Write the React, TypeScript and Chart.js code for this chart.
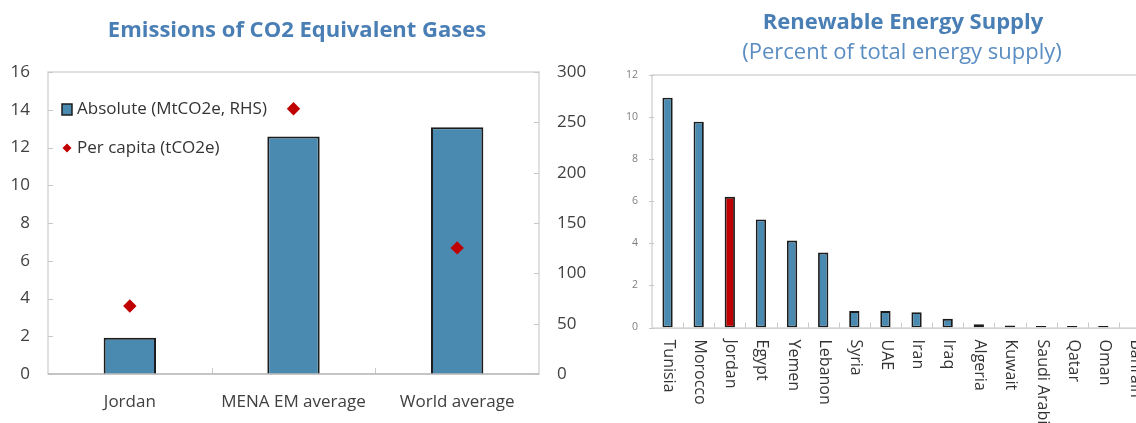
import React, { useEffect, useRef } from "react";
import { Chart, registerables } from "chart.js";

Chart.register(...registerables);

// ---------- Data: left chart ----------
const emissionCategories = ["Jordan", "MENA EM average", "World average"];
const absoluteEmissions = [36, 236, 245]; // MtCO2e (RHS)
const perCapitaEmissions = [3.6, 14.05, 6.68]; // tCO2e (LHS)
const emissionsTitle = "Emissions of CO2 Equivalent Gases";
const absoluteLabel = "Absolute (MtCO2e, RHS)";
const perCapitaLabel = "Per capita (tCO2e)";

// ---------- Data: right chart ----------
const renewableCountries = [
  "Tunisia", "Morocco", "Jordan", "Egypt", "Yemen", "Lebanon", "Syria", "UAE",
  "Iran", "Iraq", "Algeria", "Kuwait", "Saudi Arabia", "Qatar", "Oman", "Bahrain",
];
const renewableShares = [10.92, 9.78, 6.21, 5.13, 4.13, 3.56, 0.78, 0.78, 0.73, 0.41, 0.16, 0.1, 0.07, 0.07, 0.07, 0];
const highlightedCountry = "Jordan";
const renewableTitle = "Renewable Energy Supply";
const renewableSubtitle = "(Percent of total energy supply)";

const FONT = "'Open Sans', 'Noto Sans', sans-serif";
const BLUE = "#4b8ab0";
const RED = "#c00000";
const EDGE = "#1c1c1c";
const FRAME = "#d6d6d6";
const TITLE_BLUE = "#4a7fb5";

const leftDecor = {
  id: "leftDecor",
  beforeDatasetsDraw(chart: any) {
    const { ctx, chartArea: a, scales } = chart;
    ctx.save();
    ctx.strokeStyle = FRAME;
    ctx.lineWidth = 1.5;
    ctx.strokeRect(a.left, a.top, a.right - a.left, a.bottom - a.top);
    ctx.strokeStyle = "#c8c8c8";
    ctx.lineWidth = 1;
    const y = scales.y;
    y.ticks.forEach((_t: any, i: number) => {
      const py = Math.round(y.getPixelForTick(i)) + 0.5;
      ctx.beginPath();
      ctx.moveTo(a.left, py);
      ctx.lineTo(a.left + 5, py);
      ctx.stroke();
    });
    const y1 = scales.y1;
    y1.ticks.forEach((_t: any, i: number) => {
      const py = Math.round(y1.getPixelForTick(i)) + 0.5;
      ctx.beginPath();
      ctx.moveTo(a.right - 5, py);
      ctx.lineTo(a.right, py);
      ctx.stroke();
    });
    const x = scales.x;
    for (let i = 1; i < emissionCategories.length; i++) {
      const px = Math.round((x.getPixelForTick(i - 1) + x.getPixelForTick(i)) / 2) + 0.5;
      ctx.beginPath();
      ctx.moveTo(px, a.bottom);
      ctx.lineTo(px, a.bottom - 6);
      ctx.stroke();
    }
    ctx.restore();
  },
  afterDatasetsDraw(chart: any) {
    const { ctx, chartArea: a } = chart;
    ctx.save();
    ctx.strokeStyle = "#bdbdbd";
    ctx.lineWidth = 1.5;
    ctx.beginPath();
    ctx.moveTo(a.left, a.bottom);
    ctx.lineTo(a.right, a.bottom);
    ctx.stroke();
    ctx.restore();
  },
  afterDraw(chart: any) {
    const { ctx } = chart;
    ctx.save();
    ctx.fillStyle = TITLE_BLUE;
    ctx.font = `700 22px ${FONT}`;
    ctx.textAlign = "center";
    ctx.textBaseline = "alphabetic";
    ctx.fillText(emissionsTitle, 297, 37);
    // legend
    ctx.fillStyle = BLUE;
    ctx.strokeStyle = EDGE;
    ctx.lineWidth = 1.5;
    ctx.fillRect(62, 104, 10, 11);
    ctx.strokeRect(62, 104, 10, 11);
    ctx.fillStyle = RED;
    ctx.beginPath();
    ctx.moveTo(67, 143.5);
    ctx.lineTo(71.5, 148);
    ctx.lineTo(67, 152.5);
    ctx.lineTo(62.5, 148);
    ctx.closePath();
    ctx.fill();
    ctx.fillStyle = "#333333";
    ctx.font = `17px ${FONT}`;
    ctx.textAlign = "left";
    ctx.textBaseline = "middle";
    ctx.fillText(absoluteLabel, 77, 109);
    ctx.fillText(perCapitaLabel, 77, 148);
    ctx.restore();
  },
};

const rightDecor = {
  id: "rightDecor",
  beforeDatasetsDraw(chart: any) {
    const { ctx, chartArea: a, scales } = chart;
    ctx.save();
    ctx.strokeStyle = FRAME;
    ctx.lineWidth = 1.5;
    ctx.beginPath();
    ctx.moveTo(a.left, a.bottom);
    ctx.lineTo(a.left, a.top);
    ctx.lineTo(a.right, a.top);
    ctx.lineTo(a.right, a.bottom);
    ctx.stroke();
    ctx.strokeStyle = "#c8c8c8";
    ctx.lineWidth = 1;
    const y = scales.y;
    y.ticks.forEach((_t: any, i: number) => {
      const py = Math.round(y.getPixelForTick(i)) + 0.5;
      ctx.beginPath();
      ctx.moveTo(a.left - 3, py);
      ctx.lineTo(a.left + 2, py);
      ctx.stroke();
    });
    const x = scales.x;
    for (let i = 1; i < renewableCountries.length; i++) {
      const px = Math.round((x.getPixelForTick(i - 1) + x.getPixelForTick(i)) / 2) + 0.5;
      ctx.beginPath();
      ctx.moveTo(px, a.bottom);
      ctx.lineTo(px, a.bottom - 5);
      ctx.stroke();
    }
    ctx.restore();
  },
  afterDatasetsDraw(chart: any) {
    const { ctx, chartArea: a } = chart;
    ctx.save();
    ctx.strokeStyle = "#c4c4c4";
    ctx.lineWidth = 1.2;
    ctx.beginPath();
    ctx.moveTo(a.left, a.bottom + 0.6);
    ctx.lineTo(a.right, a.bottom + 0.6);
    ctx.stroke();
    ctx.restore();
  },
  afterDraw(chart: any) {
    const { ctx, chartArea: a, scales } = chart;
    ctx.save();
    ctx.fillStyle = TITLE_BLUE;
    ctx.textAlign = "center";
    ctx.textBaseline = "alphabetic";
    ctx.font = `700 22px ${FONT}`;
    ctx.fillText(renewableTitle, 303, 29);
    ctx.fillStyle = "#5a8dc2";
    ctx.font = `22px ${FONT}`;
    ctx.fillText(renewableSubtitle, 302, 59);
    // rotated category labels (top to bottom)
    const x = scales.x;
    ctx.fillStyle = "#333333";
    ctx.font = `16px ${FONT}`;
    ctx.textAlign = "left";
    ctx.textBaseline = "middle";
    renewableCountries.forEach((name, i) => {
      const px = x.getPixelForTick(i);
      ctx.save();
      ctx.translate(px + 1, a.bottom + 12);
      ctx.rotate(Math.PI / 2);
      ctx.fillText(name, 0, 0);
      ctx.restore();
    });
    ctx.restore();
  },
};

function EmissionsChart() {
  const ref = useRef<HTMLCanvasElement>(null);
  useEffect(() => {
    if (!ref.current) return;
    const chart = new Chart(ref.current, {
      data: {
        labels: emissionCategories,
        datasets: [
          {
            type: "line" as const,
            label: perCapitaLabel,
            data: perCapitaEmissions,
            yAxisID: "y",
            showLine: false,
            pointStyle: "rectRot",
            pointRadius: 6.7,
            pointBackgroundColor: RED,
            pointBorderColor: RED,
            pointBorderWidth: 0,
            order: 0,
          },
          {
            type: "bar" as const,
            label: absoluteLabel,
            data: absoluteEmissions,
            yAxisID: "y1",
            backgroundColor: BLUE,
            borderColor: EDGE,
            borderWidth: 2,
            barPercentage: 0.32,
            categoryPercentage: 1,
            order: 1,
          },
        ],
      },
      options: {
        responsive: false,
        animation: false,
        layout: { padding: { top: 72, left: 0, right: 0, bottom: 0 } },
        plugins: { legend: { display: false }, tooltip: { enabled: false }, title: { display: false } },
        scales: {
          x: {
            type: "category",
            offset: true,
            grid: { display: false, drawTicks: false },
            border: { display: false },
            ticks: { font: { family: FONT, size: 17 }, color: "#404040", padding: 18, maxRotation: 0 },
            afterFit: (s: any) => { s.height = 49; },
          },
          y: {
            position: "left",
            min: 0,
            max: 16,
            ticks: { stepSize: 2, font: { family: FONT, size: 17 }, color: "#404040", padding: 18 },
            grid: { display: false, drawTicks: false },
            border: { display: false },
            afterFit: (s: any) => { s.width = 48; },
          },
          y1: {
            position: "right",
            min: 0,
            max: 300,
            ticks: { stepSize: 50, font: { family: FONT, size: 17 }, color: "#404040", padding: 18 },
            grid: { display: false, drawTicks: false },
            border: { display: false },
            afterFit: (s: any) => { s.width = 61; },
          },
        },
      } as any,
      plugins: [leftDecor],
    });
    return () => chart.destroy();
  }, []);
  return <canvas ref={ref} width={600} height={423} style={{ position: "absolute", left: 0, top: 0 }} />;
}

function RenewablesChart() {
  const ref = useRef<HTMLCanvasElement>(null);
  useEffect(() => {
    if (!ref.current) return;
    const colors = renewableCountries.map((c) => (c === highlightedCountry ? RED : BLUE));
    const chart = new Chart(ref.current, {
      type: "bar",
      data: {
        labels: renewableCountries,
        datasets: [
          {
            label: renewableSubtitle,
            data: renewableShares,
            backgroundColor: colors,
            borderColor: EDGE,
            borderWidth: 1.8,
            borderSkipped: false,
            barPercentage: 0.33,
            categoryPercentage: 1,
          },
        ],
      },
      options: {
        responsive: false,
        animation: false,
        layout: { padding: { top: 75, left: 0, right: 10, bottom: 0 } },
        plugins: { legend: { display: false }, tooltip: { enabled: false }, title: { display: false } },
        scales: {
          x: {
            type: "category",
            offset: true,
            grid: { display: false, drawTicks: false },
            border: { display: false },
            ticks: { display: false },
            afterFit: (s: any) => { s.height = 95.5; },
          },
          y: {
            min: 0,
            max: 12,
            ticks: { stepSize: 2, font: { family: FONT, size: 10.5 }, color: "#7f7f7f", padding: 14 },
            grid: { display: false, drawTicks: false },
            border: { display: false },
            afterFit: (s: any) => { s.width = 52; },
          },
        },
      } as any,
      plugins: [rightDecor],
    });
    return () => chart.destroy();
  }, []);
  return <canvas ref={ref} width={560} height={423} style={{ position: "absolute", left: 600, top: 0 }} />;
}

export default function App() {
  return (
    <div
      style={{
        position: "fixed",
        left: 0,
        top: 0,
        width: 1136,
        height: 423,
        overflow: "hidden",
        background: "#ffffff",
      }}
    >
      <EmissionsChart />
      <RenewablesChart />
    </div>
  );
}
